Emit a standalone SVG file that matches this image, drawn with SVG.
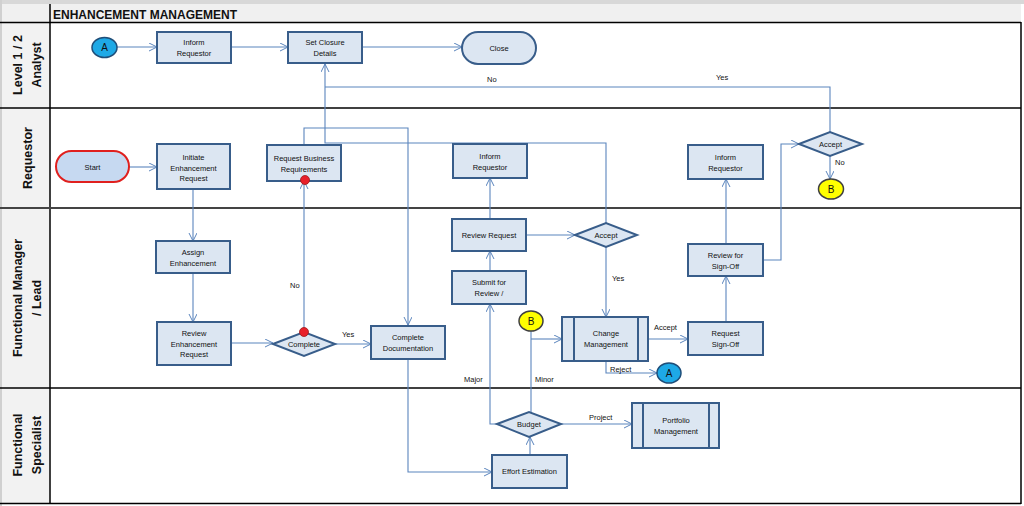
<svg xmlns="http://www.w3.org/2000/svg" width="1024" height="506" viewBox="0 0 1024 506">
<defs>
<marker id="arr" markerWidth="10" markerHeight="10" refX="8" refY="4" orient="auto" markerUnits="userSpaceOnUse">
<path d="M0,0 L8,4 L0,8" fill="none" stroke="#5b85bd" stroke-width="1"/>
</marker>
<style>
.box{fill:#dce6f2;stroke:#385d8a;stroke-width:2}
.dia{fill:#dce6f2;stroke:#385d8a;stroke-width:2}
.t{font-family:"Liberation Sans",Arial,sans-serif;font-size:7.5px;fill:#111;text-anchor:middle}
.cl{font-family:"Liberation Sans",Arial,sans-serif;font-size:10px;fill:#111;text-anchor:middle}
.lbl{font-family:"Liberation Sans",Arial,sans-serif;font-size:7.5px;fill:#111}
.lane{font-family:"Liberation Sans",Arial,sans-serif;font-size:12.5px;font-weight:bold;fill:#111;text-anchor:middle}
.c{fill:none;stroke:#5b85bd;stroke-width:1.1}
.ca{fill:none;stroke:#5b85bd;stroke-width:1.1;marker-end:url(#arr)}
.grid{stroke:#000;stroke-width:1.5}
</style>
</defs>
<rect x="0" y="0" width="1024" height="506" fill="#ffffff"/>
<rect x="0" y="0" width="1024" height="4" fill="#d8d8d8"/>
<rect x="0" y="4" width="1021" height="18" fill="#f0f0f0"/>
<rect x="0" y="22" width="50" height="482" fill="#f2f2f2"/>
<rect x="0" y="0" width="2" height="506" fill="#d0d0d0"/>
<g id="lanes">
<line x1="50" y1="4" x2="50" y2="504" class="grid"/>
<line x1="0" y1="22.5" x2="1021" y2="22.5" class="grid"/>
<line x1="0" y1="108" x2="1021" y2="108" class="grid"/>
<line x1="0" y1="208" x2="1021" y2="208" stroke="#444" stroke-width="2"/>
<line x1="0" y1="388" x2="1021" y2="388" class="grid"/>
<line x1="0" y1="503.5" x2="1021" y2="503.5" class="grid"/>
<line x1="1021" y1="22" x2="1021" y2="504" class="grid"/>
<text x="53" y="18.5" font-family="Liberation Sans,Arial,sans-serif" font-size="12" font-weight="bold" fill="#111">ENHANCEMENT MANAGEMENT</text>
<text class="lane" transform="translate(22,65) rotate(-90)">Level 1 / 2</text>
<text class="lane" transform="translate(41,65) rotate(-90)">Analyst</text>
<text class="lane" transform="translate(32,158) rotate(-90)">Requestor</text>
<text class="lane" transform="translate(22,298) rotate(-90)">Functional Manager</text>
<text class="lane" transform="translate(41,298) rotate(-90)">/ Lead</text>
<text class="lane" transform="translate(22,445) rotate(-90)">Functional</text>
<text class="lane" transform="translate(41,445) rotate(-90)">Specialist</text>
</g>
<g id="connectors">
<line x1="117" y1="47" x2="157" y2="47" class="ca"/>
<line x1="231" y1="47" x2="288" y2="47" class="ca"/>
<line x1="362" y1="47" x2="462" y2="47" class="ca"/>
<polyline points="830,132 830,87 325,87" class="c"/>
<polyline points="606,223 606,143 325,143 325,64" class="ca"/>
<polyline points="304,145 304,128 408,128 408,325" class="ca"/>
<line x1="129" y1="167" x2="157" y2="167" class="ca"/>
<line x1="193" y1="189" x2="193" y2="241" class="ca"/>
<line x1="193" y1="273" x2="193" y2="322" class="ca"/>
<line x1="231" y1="343" x2="273" y2="343" class="ca"/>
<line x1="304" y1="332" x2="304" y2="181" class="ca"/>
<line x1="335" y1="344" x2="371" y2="344" class="ca"/>
<polyline points="408,359 408,472 492,472" class="ca"/>
<line x1="530" y1="455" x2="530" y2="437" class="ca"/>
<polyline points="499,424 490,424 490,304" class="ca"/>
<line x1="490" y1="271" x2="490" y2="251" class="ca"/>
<line x1="490" y1="219" x2="490" y2="178" class="ca"/>
<line x1="526" y1="235" x2="575" y2="235" class="ca"/>
<line x1="606" y1="247" x2="606" y2="317" class="ca"/>
<polyline points="531,412 531,331" class="c"/>
<line x1="531" y1="339" x2="562" y2="339" class="ca"/>
<line x1="561" y1="424" x2="632" y2="424" class="ca"/>
<line x1="648" y1="339" x2="688" y2="339" class="ca"/>
<polyline points="606,361 606,373 657,373" class="ca"/>
<line x1="726" y1="322" x2="726" y2="276" class="ca"/>
<line x1="726" y1="244" x2="726" y2="179" class="ca"/>
<polyline points="763,260 781,260 781,144 799,144" class="ca"/>
<line x1="830" y1="156" x2="830" y2="179" class="ca"/>
<text class="lbl" x="487" y="82">No</text>
<text class="lbl" x="716" y="80">Yes</text>
<text class="lbl" x="835" y="165">No</text>
<text class="lbl" x="290" y="288">No</text>
<text class="lbl" x="342" y="337">Yes</text>
<text class="lbl" x="612" y="281">Yes</text>
<text class="lbl" x="654" y="330">Accept</text>
<text class="lbl" x="610" y="372">Reject</text>
<text class="lbl" x="464" y="382">Major</text>
<text class="lbl" x="535" y="382">Minor</text>
<text class="lbl" x="589" y="420">Project</text>
</g>
<g id="A1"><ellipse cx="104.5" cy="47.5" rx="12.5" ry="10" fill="#1ea9e6" stroke="#1f4e79" stroke-width="1.5"/><text class="cl" x="104.5" y="51">A</text></g>
<g id="inform1"><rect class="box" x="157" y="32" width="74" height="31"/><text class="t" x="194" y="45">Inform</text><text class="t" x="194" y="55.5">Requestor</text></g>
<g id="setclosure"><rect class="box" x="288" y="32" width="74" height="31"/><text class="t" x="325" y="45">Set Closure</text><text class="t" x="325" y="55.5">Details</text></g>
<g id="close"><rect class="box" x="462" y="32" width="74" height="32" rx="16" ry="16" fill="#c6d9f1"/><text class="t" x="499" y="50.5">Close</text></g>
<g id="start"><rect x="56" y="151" width="73" height="31" rx="15.5" ry="15.5" fill="#c6d9f1" stroke="#e0201e" stroke-width="2"/><text class="t" x="92.5" y="169.5">Start</text></g>
<g id="initiate"><rect class="box" x="157" y="144" width="73" height="45"/><text class="t" x="193.5" y="160">Initiate</text><text class="t" x="193.5" y="170.5">Enhancement</text><text class="t" x="193.5" y="181">Request</text></g>
<g id="reqbiz"><rect class="box" x="267" y="145" width="74" height="36"/><text class="t" x="304" y="161">Request Business</text><text class="t" x="304" y="171.5">Requirements</text><circle cx="305" cy="180" r="4.5" fill="#e8202a" stroke="#9b1c1c" stroke-width="0.8"/></g>
<g id="inform2"><rect class="box" x="453" y="144" width="74" height="34"/><text class="t" x="490" y="159">Inform</text><text class="t" x="490" y="169.5">Requestor</text></g>
<g id="inform3"><rect class="box" x="688" y="145" width="75" height="34"/><text class="t" x="725.5" y="160">Inform</text><text class="t" x="725.5" y="170.5">Requestor</text></g>
<g id="accept2"><polygon class="dia" points="799,144 830,132 862,144 830,156"/><text class="t" x="830.5" y="147">Accept</text></g>
<g id="B1"><ellipse cx="831" cy="189" rx="12.5" ry="10" fill="#ffff00" stroke="#404040" stroke-width="1.5"/><text class="cl" x="831" y="192.5">B</text></g>
<g id="assign"><rect class="box" x="156" y="241" width="74" height="32"/><text class="t" x="193" y="255">Assign</text><text class="t" x="193" y="265.5">Enhancement</text></g>
<g id="reviewenh"><rect class="box" x="157" y="322" width="74" height="43"/><text class="t" x="194" y="336">Review</text><text class="t" x="194" y="346.5">Enhancement</text><text class="t" x="194" y="357">Request</text></g>
<g id="complete"><polygon class="dia" points="273,344 304,332 335,344 304,356"/><text class="t" x="304" y="346.5">Complete</text><circle cx="304" cy="332" r="4.5" fill="#e8202a" stroke="#9b1c1c" stroke-width="0.8"/></g>
<g id="completedoc"><rect class="box" x="371" y="326" width="74" height="33"/><text class="t" x="408" y="340">Complete</text><text class="t" x="408" y="350.5">Documentation</text></g>
<g id="reviewreq"><rect class="box" x="452" y="219" width="74" height="32"/><text class="t" x="489" y="237.5">Review Request</text></g>
<g id="submit"><rect class="box" x="452" y="271" width="74" height="33"/><text class="t" x="489" y="285">Submit for</text><text class="t" x="489" y="295.5">Review /</text></g>
<g id="accept3"><polygon class="dia" points="575,235 606,223 637,235 606,247"/><text class="t" x="606" y="237.5">Accept</text></g>
<g id="B2"><ellipse cx="531" cy="321" rx="12" ry="10" fill="#ffff00" stroke="#404040" stroke-width="1.5"/><text class="cl" x="531" y="324.5">B</text></g>
<g id="changemgmt"><rect class="box" x="562" y="317" width="86" height="44"/><line x1="574" y1="317" x2="574" y2="361" stroke="#385d8a" stroke-width="2"/><line x1="638" y1="317" x2="638" y2="361" stroke="#385d8a" stroke-width="2"/><text class="t" x="606" y="336">Change</text><text class="t" x="606" y="346.5">Management</text></g>
<g id="A2"><ellipse cx="669" cy="373" rx="12" ry="10" fill="#1ea9e6" stroke="#1f4e79" stroke-width="1.5"/><text class="cl" x="669" y="376.5">A</text></g>
<g id="reqsignoff"><rect class="box" x="688" y="322" width="75" height="33"/><text class="t" x="725.5" y="336">Request</text><text class="t" x="725.5" y="346.5">Sign-Off</text></g>
<g id="reviewsignoff"><rect class="box" x="688" y="244" width="75" height="32"/><text class="t" x="725.5" y="258">Review for</text><text class="t" x="725.5" y="268.5">Sign-Off</text></g>
<g id="budget"><polygon class="dia" points="497,424 529,412 561,424 529,437"/><text class="t" x="529" y="427">Budget</text></g>
<g id="portfolio"><rect class="box" x="632" y="403" width="87" height="45"/><line x1="643" y1="403" x2="643" y2="448" stroke="#385d8a" stroke-width="2"/><line x1="709" y1="403" x2="709" y2="448" stroke="#385d8a" stroke-width="2"/><text class="t" x="676" y="423">Portfolio</text><text class="t" x="676" y="433.5">Management</text></g>
<g id="effort"><rect class="box" x="492" y="455" width="75" height="33"/><text class="t" x="529.5" y="474">Effort Estimation</text></g>
</svg>
